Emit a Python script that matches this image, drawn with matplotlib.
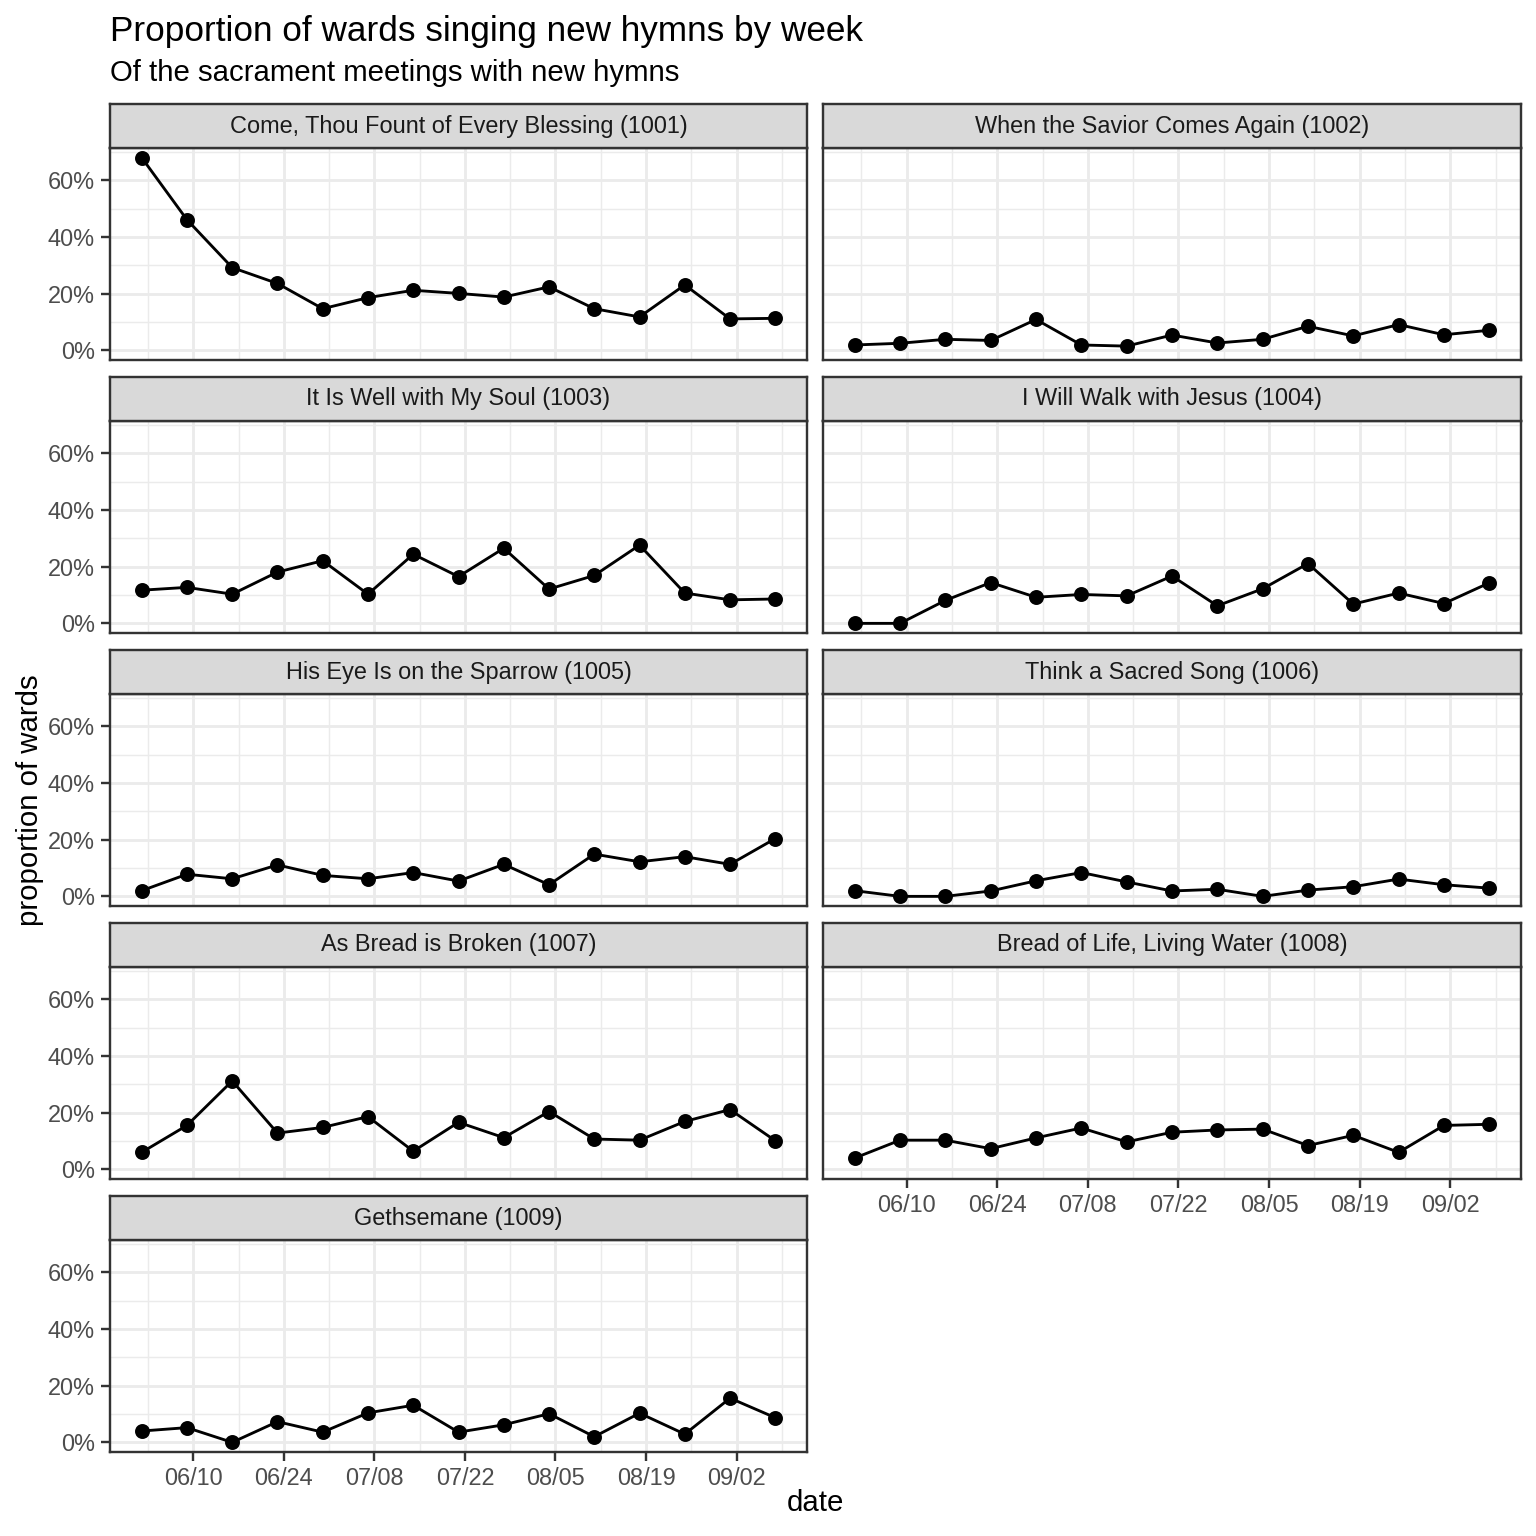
import numpy as np
import matplotlib
matplotlib.use("Agg")
import matplotlib.pyplot as plt
import matplotlib.dates as mdates
from matplotlib.ticker import FixedLocator, FuncFormatter
import datetime as dt

plt.rcParams['font.family'] = ['Liberation Sans', 'DejaVu Sans']

# ---- data ----
dates = [dt.date(2024, 6, 2) + dt.timedelta(days=7 * i) for i in range(15)]
hymn_titles = [
    "Come, Thou Fount of Every Blessing (1001)",
    "When the Savior Comes Again (1002)",
    "It Is Well with My Soul (1003)",
    "I Will Walk with Jesus (1004)",
    "His Eye Is on the Sparrow (1005)",
    "Think a Sacred Song (1006)",
    "As Bread is Broken (1007)",
    "Bread of Life, Living Water (1008)",
    "Gethsemane (1009)",
]
h1001 = [68.0, 46.1, 29.2, 23.6, 14.7, 18.6, 21.2, 20.1, 18.8, 22.4, 14.7, 11.8, 23.1, 11.1, 11.3]
h1002 = [1.9, 2.5, 3.9, 3.5, 10.9, 1.9, 1.5, 5.4, 2.6, 3.9, 8.5, 5.1, 9.1, 5.5, 7.1]
h1003 = [11.7, 12.7, 10.3, 18.1, 22.1, 10.3, 24.4, 16.5, 26.5, 12.1, 16.9, 27.6, 10.7, 8.3, 8.6]
h1004 = [0.0, 0.0, 8.1, 14.4, 9.2, 10.2, 9.7, 16.7, 6.2, 12.2, 21.1, 6.8, 10.7, 7.0, 14.3]
h1005 = [2.0, 7.8, 6.2, 11.1, 7.4, 6.2, 8.4, 5.4, 11.3, 4.1, 14.9, 12.2, 14.0, 11.3, 20.4]
h1006 = [2.0, 0.0, 0.0, 1.9, 5.5, 8.4, 5.1, 1.9, 2.5, 0.0, 2.2, 3.4, 6.1, 4.1, 2.9]
h1007 = [6.0, 15.5, 31.2, 12.8, 14.8, 18.6, 6.4, 16.6, 11.2, 20.4, 10.7, 10.3, 16.9, 21.1, 10.1]
h1008 = [4.0, 10.3, 10.3, 7.3, 11.1, 14.6, 9.7, 13.1, 13.9, 14.2, 8.4, 12.0, 6.0, 15.5, 15.9]
h1009 = [4.0, 5.2, 0.0, 7.3, 3.6, 10.4, 13.1, 3.6, 6.2, 10.1, 2.0, 10.3, 2.9, 15.6, 8.7]
series = [h1001, h1002, h1003, h1004, h1005, h1006, h1007, h1008, h1009]

major_dates = [dt.date(2024, 6, 10) + dt.timedelta(days=14 * i) for i in range(7)]
minor_dates = [dt.date(2024, 6, 3) + dt.timedelta(days=14 * i) for i in range(8)]
y_major = [0.0, 0.2, 0.4, 0.6]
y_minor = [0.1, 0.3, 0.5, 0.7]

title = "Proportion of wards singing new hymns by week"
subtitle = "Of the sacrament meetings with new hymns"
xlabel = "date"
ylabel = "proportion of wards"

# ---- layout ----
W = H = 1536
fig = plt.figure(figsize=(8, 8), dpi=192)
fig.patch.set_facecolor("white")

cols = [(110, 807), (823, 1521)]
row_top0, row_step, strip_h, panel_h = 104, 273, 44, 212

xnum = mdates.date2num(dates)
span = xnum[-1] - xnum[0]
xlim = (xnum[0] - 0.05 * span, xnum[-1] + 0.05 * span)
allv = np.array(series) / 100.0
ymin, ymax = allv.min(), allv.max()
yr = ymax - ymin
ylim = (ymin - 0.05 * yr, ymax + 0.05 * yr)

grid_col = "#EBEBEB"
dark = "#333333"
lab_col = "#4D4D4D"

nrows = 5
for i, (name, vals) in enumerate(zip(hymn_titles, series)):
    r, c = divmod(i, 2)
    x0, x1 = cols[c]
    st = row_top0 + r * row_step
    pt = st + strip_h
    ax = fig.add_axes([x0 / W, 1 - (pt + panel_h) / H, (x1 - x0) / W, panel_h / H])
    ax.set_xlim(*xlim)
    ax.set_ylim(*ylim)
    ax.xaxis.set_major_locator(FixedLocator(mdates.date2num(major_dates)))
    ax.xaxis.set_minor_locator(FixedLocator(mdates.date2num(minor_dates)))
    ax.yaxis.set_major_locator(FixedLocator(y_major))
    ax.yaxis.set_minor_locator(FixedLocator(y_minor))
    ax.grid(which="major", color=grid_col, linewidth=1.07)
    ax.grid(which="minor", color=grid_col, linewidth=0.53)
    ax.set_axisbelow(True)
    for sp in ax.spines.values():
        sp.set_color(dark)
        sp.set_linewidth(0.9)
    ax.plot(xnum, np.array(vals) / 100.0, color="black", linewidth=1.07, zorder=3)
    ax.plot(xnum, np.array(vals) / 100.0, "o", color="black", markersize=4.6, zorder=4)
    ax.tick_params(which="minor", length=0)
    ax.tick_params(which="major", length=3.5, width=0.9, color=dark,
                   labelsize=8.8, labelcolor=lab_col, pad=2.2)
    show_x = (r == nrows - 1) or (c == 1 and r == nrows - 2)
    if show_x:
        ax.xaxis.set_major_formatter(mdates.DateFormatter("%m/%d"))
    else:
        ax.tick_params(axis="x", which="major", length=0, labelbottom=False)
    if c == 0:
        ax.yaxis.set_major_formatter(FuncFormatter(lambda v, p: f"{v*100:.0f}%"))
    else:
        ax.tick_params(axis="y", which="major", length=0, labelleft=False)

    sax = fig.add_axes([x0 / W, 1 - pt / H, (x1 - x0) / W, strip_h / H])
    sax.set_facecolor("#D9D9D9")
    sax.set_xticks([])
    sax.set_yticks([])
    for sp in sax.spines.values():
        sp.set_color(dark)
        sp.set_linewidth(0.9)
    sax.text(0.5, 0.5, name, ha="center", va="center", fontsize=8.8,
             color="#1A1A1A", transform=sax.transAxes)

fig.text(110 / W, 1 - 41 / H, title, fontsize=13.2, ha="left", va="baseline", color="black")
fig.text(110 / W, 1 - 81 / H, subtitle, fontsize=11, ha="left", va="baseline", color="black")
fig.text(815 / W, 1 - 1503 / H, xlabel, fontsize=11, ha="center", va="center", color="black")
fig.text(30 / W, 1 - 800 / H, ylabel, fontsize=11, ha="center", va="center",
         rotation=90, color="black")

fig.savefig("out.png", dpi=192, facecolor="white")
